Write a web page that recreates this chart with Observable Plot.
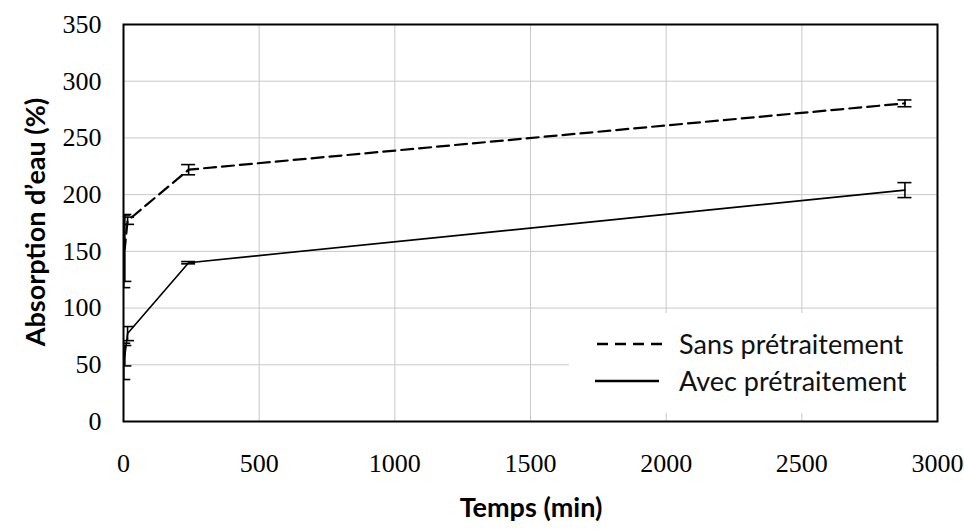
<!DOCTYPE html>
<html>
<head>
<meta charset="utf-8">
<script src="https://cdn.jsdelivr.net/npm/d3@7"></script>
<script src="https://cdn.jsdelivr.net/npm/@observablehq/plot@0.6"></script>
<style>
  html, body { margin: 0; padding: 0; background: white; }
  #wrap { position: relative; width: 964px; height: 532px; }
  #legend { position: absolute; left: 569px; top: 313px; width: 367px; height: 100px; background: white;
            font-family: Lato, "Open Sans", sans-serif; font-size: 27px; color: #111; }
  .row { position: absolute; left: 26px; display: flex; align-items: center; line-height: 1; }
  .row svg { margin-right: 14px; }
</style>
</head>
<body>
<div id="wrap"></div>
<script>
const times = [1, 5, 15, 240, 2880];
const sans = [150, 153, 177, 222, 280.5];
const sansErr = [32, 29.5, 3.2, 4.5, 3];
const avec = [53, 58, 77.5, 140, 204];
const avecErr = [16, 9, 6.2, 1, 6.6];
const xTicks = [0, 500, 1000, 1500, 2000, 2500, 3000];
const yTicks = [0, 50, 100, 150, 200, 250, 300, 350];
const seriesNames = ["Sans prétraitement", "Avec prétraitement"];

const rows = [];
times.forEach((t, i) => {
  rows.push({serie: seriesNames[0], t, v: sans[i], lo: sans[i] - sansErr[i], hi: sans[i] + sansErr[i]});
  rows.push({serie: seriesNames[1], t, v: avec[i], lo: avec[i] - avecErr[i], hi: avec[i] + avecErr[i]});
});
const S = rows.filter(d => d.serie === seriesNames[0]);
const A = rows.filter(d => d.serie === seriesNames[1]);

const capOpts = (key) => ({x1: "t", x2: "t", y: key, insetLeft: -7, insetRight: -7, stroke: "black", strokeWidth: 1.6, clip: true});
const fmt = d3.format("d");

const chart = Plot.plot({
  width: 964, height: 532,
  marginLeft: 123, marginRight: 27, marginTop: 24, marginBottom: 111,
  x: {domain: [0, 3000]},
  y: {domain: [0, 350]},
  style: {fontFamily: "'Liberation Serif', 'Times New Roman', serif", fontSize: "26px", color: "black", background: "white"},
  marks: [
    Plot.gridX(xTicks, {stroke: "#c8c8c8", strokeOpacity: 1, strokeWidth: 1}),
    Plot.gridY(yTicks, {stroke: "#c8c8c8", strokeOpacity: 1, strokeWidth: 1}),
    Plot.axisX(xTicks, {tickSize: 0, tickPadding: 32, label: null, fontSize: 26, tickFormat: fmt}),
    Plot.axisY(yTicks, {tickSize: 0, tickPadding: 22, label: null, fontSize: 26, tickFormat: fmt}),
    Plot.ruleX(rows, {x: "t", y1: "lo", y2: "hi", stroke: "black", strokeWidth: 1.6, clip: true}),
    Plot.ruleY(rows, capOpts("lo")),
    Plot.ruleY(rows, capOpts("hi")),
    Plot.line(S, {x: "t", y: "v", stroke: "black", strokeWidth: 2.2, strokeDasharray: "12,6", clip: true}),
    Plot.line(A, {x: "t", y: "v", stroke: "black", strokeWidth: 1.6, clip: true}),
    Plot.frame({stroke: "black", strokeWidth: 2})
  ]
});

const svg = d3.select(chart);
svg.append("text").attr("x", 531).attr("y", 517).attr("text-anchor", "middle")
  .attr("font-family", "Lato, 'Open Sans', sans-serif").attr("font-weight", "bold").attr("font-size", 27)
  .text("Temps (min)");
svg.append("text").attr("transform", "translate(45,222) rotate(-90)").attr("text-anchor", "middle")
  .attr("font-family", "Lato, 'Open Sans', sans-serif").attr("font-weight", "bold").attr("font-size", 27)
  .text("Absorption d’eau (%)");

const wrap = document.getElementById("wrap");
wrap.appendChild(chart);

const legend = document.createElement("div");
legend.id = "legend";
legend.innerHTML = `
  <div class="row" style="top:17px"><svg width="70" height="10"><line x1="2" x2="68" y1="5" y2="5" stroke="black" stroke-width="2.4" stroke-dasharray="11,7"/></svg><span>${seriesNames[0]}</span></div>
  <div class="row" style="top:54px"><svg width="70" height="10"><line x1="0" x2="64" y1="5" y2="5" stroke="black" stroke-width="2.6"/></svg><span>${seriesNames[1]}</span></div>`;
wrap.appendChild(legend);
</script>
</body>
</html>
